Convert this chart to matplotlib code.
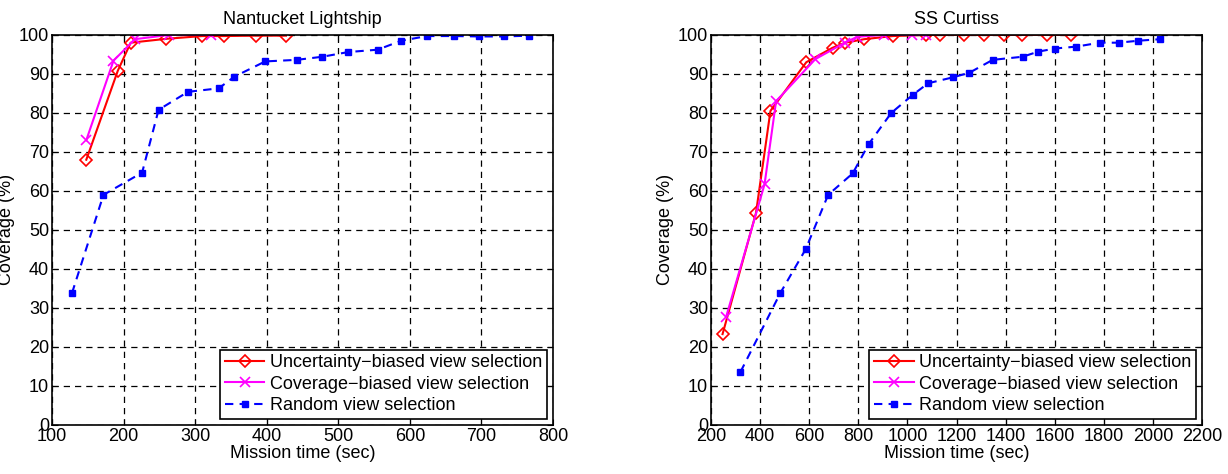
import matplotlib
matplotlib.use("Agg")
import matplotlib.pyplot as plt

plt.rcParams['font.family'] = ['Liberation Sans', 'DejaVu Sans']
plt.rcParams['font.size'] = 13

# Nantucket Lightship
nl_unc_t = [148, 192, 210, 260, 310, 340, 385, 427]
nl_unc_c = [68, 90.8, 98, 99, 99.7, 99.7, 99.8, 99.8]
nl_cov_t = [148, 186, 216, 264, 322]
nl_cov_c = [73, 93.4, 98.9, 100, 100]
nl_rnd_t = [128, 172, 226, 249, 290, 333, 355, 398, 442, 478, 514, 555, 588, 624, 662, 697, 732, 767]
nl_rnd_c = [33.8, 59, 64.7, 80.8, 85.4, 86.3, 89.3, 93.2, 93.6, 94.4, 95.6, 96.2, 98.5, 99.7, 99.7, 99.6, 99.6, 99.8]

# SS Curtiss
sc_unc_t = [247, 383, 442, 588, 695, 747, 824, 940, 1076, 1131, 1229, 1313, 1392, 1467, 1566, 1665]
sc_unc_c = [23.3, 54.3, 80.5, 93, 96.7, 98, 98.9, 99.7, 100, 100, 100, 100, 100, 100, 100, 100]
sc_cov_t = [262, 418, 465, 625, 745, 795, 905, 1020, 1076]
sc_cov_c = [27.8, 61.7, 83, 93.8, 98, 99.5, 100, 100, 100]
sc_rnd_t = [320, 482, 585, 677, 777, 842, 934, 1021, 1084, 1184, 1252, 1347, 1469, 1532, 1600, 1688, 1783, 1860, 1939, 2030]
sc_rnd_c = [13.6, 33.8, 45, 59, 64.5, 72, 80, 84.6, 87.6, 89.1, 90.3, 93.6, 94.4, 95.7, 96.5, 97, 98, 98, 98.5, 98.9]

labels = ["Uncertainty\u2212biased view selection",
          "Coverage\u2212biased view selection",
          "Random view selection"]

fig = plt.figure(figsize=(12.28, 4.74), dpi=100)
ax1 = fig.add_axes([0.0423, 0.1034, 0.408, 0.823])
ax2 = fig.add_axes([0.579, 0.1034, 0.400, 0.823])


def draw(ax, ut, uc, ct, cc, rt, rc, title, xlim, xticks):
    ax.plot(ut, uc, color='red', lw=1.5, marker='D', ms=6.5, mfc='none', mec='red', mew=1.2, label=labels[0])
    ax.plot(ct, cc, color='magenta', lw=1.5, marker='x', ms=7, mew=1.2, label=labels[1])
    ax.plot(rt, rc, color='blue', lw=1.5, ls=(0, (4, 3)), marker='s', ms=4, mfc='blue', mec='blue', label=labels[2])
    ax.set_xlim(*xlim)
    ax.set_ylim(0, 100)
    ax.set_xticks(xticks)
    ax.set_yticks(range(0, 101, 10))
    ax.grid(True, color='black', ls=(0, (5, 4)), lw=0.9)
    ax.tick_params(direction='in', length=4, top=True, right=True, labelsize=13, pad=2)
    for s in ax.spines.values():
        s.set_linewidth(1.2)
    ax.set_title(title, fontsize=13, pad=8)
    ax.set_xlabel("Mission time (sec)", fontsize=13, labelpad=0)
    ax.set_ylabel("Coverage (%)", fontsize=13, labelpad=3)
    leg = ax.legend(loc='lower right', fontsize=13, fancybox=False, framealpha=1,
                    edgecolor='black', borderpad=0.25, labelspacing=0.25,
                    handlelength=2.2, handletextpad=0.3, borderaxespad=0.35)
    leg.get_frame().set_linewidth(1.2)


draw(ax1, nl_unc_t, nl_unc_c, nl_cov_t, nl_cov_c, nl_rnd_t, nl_rnd_c,
     "Nantucket Lightship", (100, 800), range(100, 801, 100))
draw(ax2, sc_unc_t, sc_unc_c, sc_cov_t, sc_cov_c, sc_rnd_t, sc_rnd_c,
     "SS Curtiss", (200, 2200), range(200, 2201, 200))

fig.savefig("out.png", dpi=100)
